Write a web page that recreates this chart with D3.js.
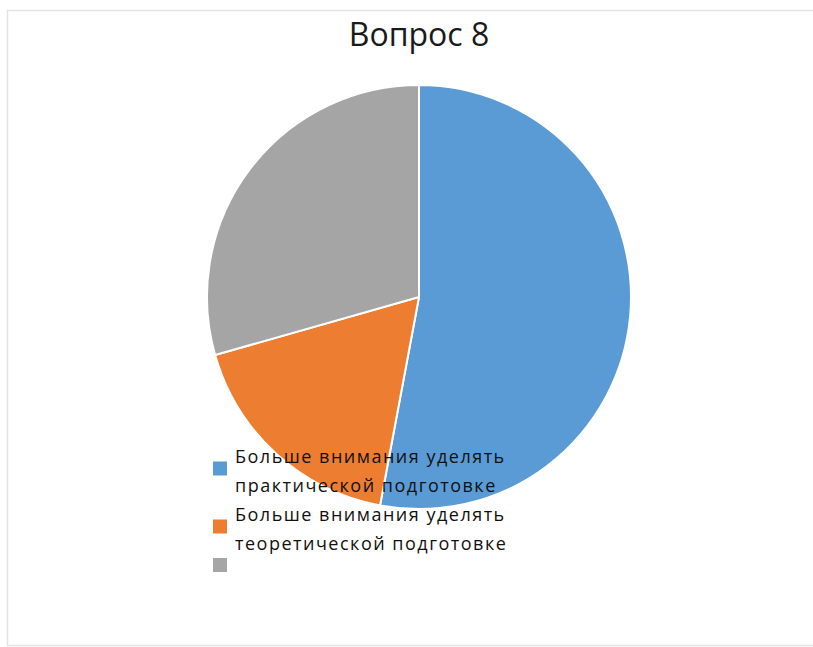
<!DOCTYPE html>
<html>
<head>
<meta charset="utf-8">
<script src="https://cdn.jsdelivr.net/npm/d3@7"></script>
<style>
  body { margin: 0; background: #fff; }
  svg { display: block; }
</style>
</head>
<body>
<div id="fig-pie"></div>
<script>
let figName = 'fig-pie';

let width = 813;
let height = 647;

// data
let title = 'Вопрос 8';
let categories = [
    'Больше внимания уделять практической подготовке',
    'Больше внимания уделять теоретической подготовке',
    ''
];
let legendLines = [
    ['Больше внимания уделять', 'практической подготовке'],
    ['Больше внимания уделять', 'теоретической подготовке'],
    ['']
];
let values = [18, 6, 10];
let colors = ['#5B9BD5', '#ED7D31', '#A5A5A5'];

let center = {x: 419, y: 297};
let radius = 212;

let svg = d3.select(`div#${figName}`).append('svg')
    .attr('width', width)
    .attr('height', height);

// chart frame
svg.append('rect')
    .attr('x', 7.5)
    .attr('y', 10.5)
    .attr('width', width + 10)
    .attr('height', 635)
    .attr('fill', '#fff')
    .attr('stroke', '#e3e3e3')
    .attr('stroke-width', 1.5);

svg.append('text')
    .attr('x', center.x)
    .attr('y', 46)
    .attr('text-anchor', 'middle')
    .attr('font-family', 'Open Sans, sans-serif')
    .attr('font-size', 32)
    .attr('fill', '#1a1a1a')
    .text(title);

let data = categories.map((c, i) => ({name: c, value: values[i], color: colors[i]}));

let pie = d3.pie()
    .sort(null)
    .value(d => d.value);

let arc = d3.arc()
    .innerRadius(0)
    .outerRadius(radius);

svg.append('g')
    .attr('transform', `translate(${center.x}, ${center.y})`)
  .selectAll('path')
  .data(pie(data))
  .join('path')
    .attr('d', arc)
    .attr('fill', d => d.data.color)
    .attr('stroke', '#fff')
    .attr('stroke-width', 2);

// legend, drawn on top of the pie like the original
let legend = svg.append('g')
    .attr('font-family', 'Open Sans, sans-serif')
    .attr('font-size', 18)
    .attr('letter-spacing', 1.5)
    .attr('fill', '#111');

let legendX = 213;
let textX = 235;
let lineH = 29;
let firstBase = 463;
let sq = 14;

let line = 0;
data.forEach((d, i) => {
    let lines = legendLines[i];
    let base = firstBase + line * lineH;
    let g = legend.append('g');
    lines.forEach((t, j) => {
        g.append('text')
            .attr('x', textX)
            .attr('y', base + j * lineH)
            .text(t);
    });
    let midY = base - 14 + (lines.length - 1) * 19.5;
    g.append('rect')
        .attr('x', legendX)
        .attr('y', midY - sq / 2)
        .attr('width', sq)
        .attr('height', sq)
        .attr('fill', d.color);
    line += lines.length;
});
</script>
</body>
</html>
